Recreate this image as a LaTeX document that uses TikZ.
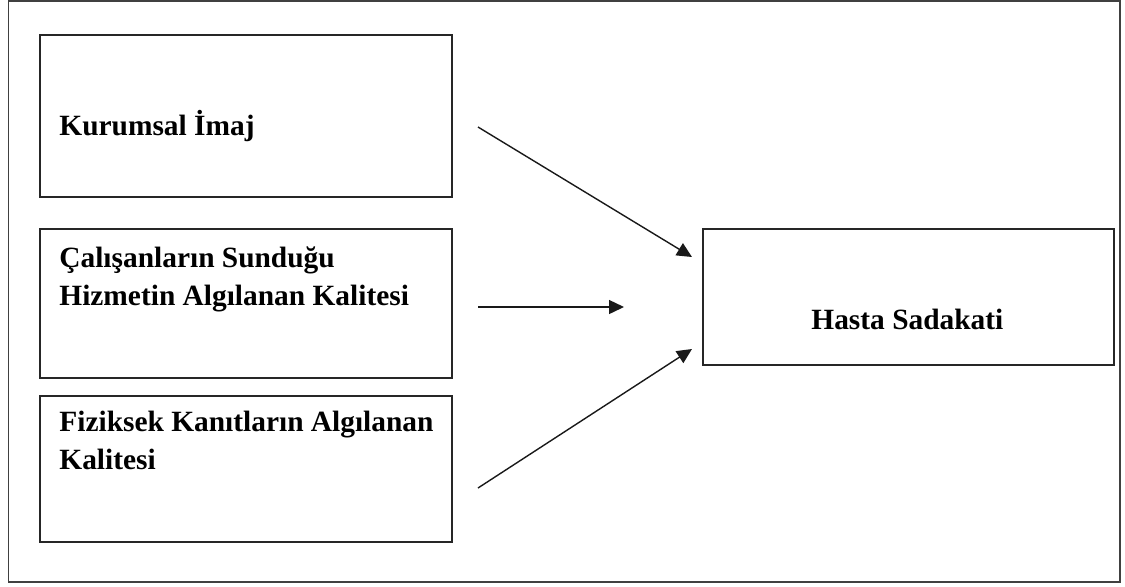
\documentclass[tikz,border=0pt]{standalone}
\usepackage{fontspec}
\setmainfont{Liberation Serif}
\usetikzlibrary{arrows.meta}
\begin{document}
\begin{tikzpicture}[x=0.5pt,y=-0.5pt,
  frame/.style={draw=black!75,line width=0.65pt},
  box/.style={draw=black!85,line width=0.75pt,rectangle,inner sep=0pt,outer sep=0pt,anchor=north west},
  lbl/.style={inner sep=0pt,font=\fontsize{14.7}{19}\selectfont\bfseries,align=left},
  arr/.style={draw=black!90,line width=0.7pt,-{Triangle[length=7.5pt,width=7pt]}}]
\useasboundingbox (0,0) rectangle (1125,586);
\draw[frame] (8.5,1) rectangle (1120,582);
% boxes
\node[box,minimum width=206pt,minimum height=81pt] (b1) at (40,35) {};
\node[box,minimum width=206pt,minimum height=74.5pt] (b2) at (40,229) {};
\node[box,minimum width=206pt,minimum height=73pt] (b3) at (40,396) {};
\node[box,minimum width=205.5pt,minimum height=68pt] (b4) at (703,229) {};
% labels
\node[lbl,anchor=base west] (t1) at (59,135) {Kurumsal İmaj};
\node[lbl,anchor=north west] (t2) at (59,246) {Çalışanların Sunduğu\\Hizmetin Algılanan Kalitesi};
\node[lbl,anchor=north west] (t3) at (59,411) {Fiziksek Kanıtların Algılanan\\Kalitesi};
\node[lbl,anchor=base west] (t4) at (811,329) {Hasta Sadakati};
% arrows
\coordinate (s1) at (478,127);
\coordinate (e1) at (692,257);
\coordinate (s2) at (478,307);
\coordinate (e2) at (624,307);
\coordinate (s3) at (478,488);
\coordinate (e3) at (692,349);
\draw[arr] (s1) -- (e1);
\draw[arr] (s2) -- (e2);
\draw[arr] (s3) -- (e3);
\end{tikzpicture}
\end{document}
